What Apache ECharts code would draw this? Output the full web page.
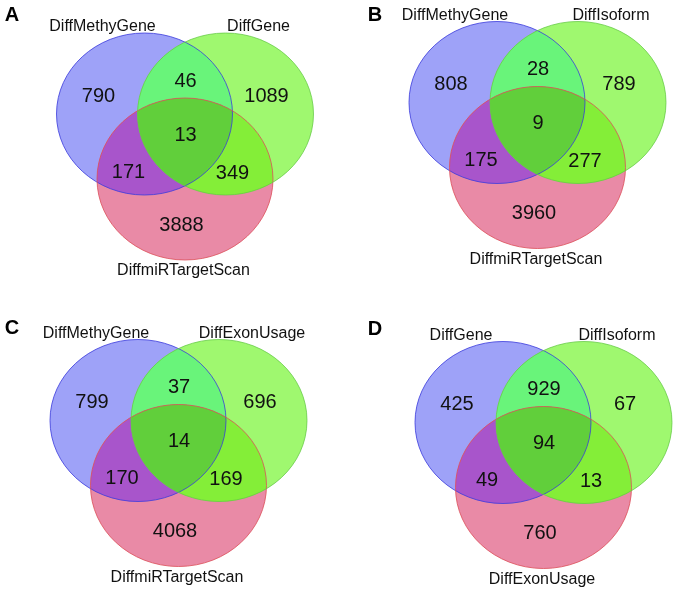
<!DOCTYPE html>
<html>
<head>
<meta charset="utf-8">
<script src="https://cdn.jsdelivr.net/npm/echarts@6/dist/echarts.min.js"></script>
<style>html,body{margin:0;padding:0;background:#fff}#c{width:677px;height:592px}</style>
</head>
<body>
<div id="c"></div>
<script>
// ---- data ----
const panelLetters = ['A', 'B', 'C', 'D'];
const setNamesA = ['DiffMethyGene', 'DiffGene', 'DiffmiRTargetScan'];
const setNamesB = ['DiffMethyGene', 'DiffIsoform', 'DiffmiRTargetScan'];
const setNamesC = ['DiffMethyGene', 'DiffExonUsage', 'DiffmiRTargetScan'];
const setNamesD = ['DiffGene', 'DiffIsoform', 'DiffExonUsage'];
// region order: only1, 1&2, only2, 1&2&3, 1&3, 2&3, only3
const countsA = [790, 46, 1089, 13, 171, 349, 3888];
const countsB = [808, 28, 789, 9, 175, 277, 3960];
const countsC = [799, 37, 696, 14, 170, 169, 4068];
const countsD = [425, 929, 67, 94, 49, 13, 760];

// ---- layout (pixels) ----
const panelOrigins = [[144.5, 114], [497, 102.5], [138, 420.5], [503, 422.5]];
const letterPos = [[12, 15], [375, 15], [12, 328], [375, 329]];
const RX = 88, RY = 81;
const GREEN_DX = 81, RED_DX = 40.5, RED_DY = 65;
const numOffsets = [[-46, -18], [41, -33], [122, -18], [41, 21], [-16, 58], [88, 59], [37, 111]];
const nameOffsets = [[-42, -87], [114, -87], [39, 157]];
const colors = {
  b: '#9ea2f8', g: '#9ff86f', r: '#e98aa6',
  bg: '#69f47a', br: '#a855cb', gr: '#84ee38', bgr: '#61cf3b'
};
const strokes = { b: 'rgba(60,60,220,0.8)', g: 'rgba(100,200,70,0.75)', r: 'rgba(220,80,90,0.8)' };
const FONT = '"Liberation Sans", Arial, Helvetica, sans-serif';

const allNames = [setNamesA, setNamesB, setNamesC, setNamesD];
const allCounts = [countsA, countsB, countsC, countsD];

function ell(cx, cy) { return { cx: cx, cy: cy, rx: RX, ry: RY }; }

function makeRender(p) {
  return function (params, api) {
    const bx = panelOrigins[p][0], by = panelOrigins[p][1];
    const B = ell(bx, by), G = ell(bx + GREEN_DX, by), R = ell(bx + RED_DX, by + RED_DY);
    const ch = [];
    ch.push({ type: 'ellipse', shape: B, style: { fill: colors.b } });
    ch.push({ type: 'ellipse', shape: R, style: { fill: colors.r } });
    ch.push({ type: 'ellipse', shape: G, style: { fill: colors.g } });
    ch.push({ type: 'ellipse', shape: B, style: { fill: colors.bg }, clipPath: { type: 'ellipse', shape: G } });
    ch.push({ type: 'ellipse', shape: B, style: { fill: colors.br }, clipPath: { type: 'ellipse', shape: R } });
    ch.push({ type: 'ellipse', shape: G, style: { fill: colors.gr }, clipPath: { type: 'ellipse', shape: R } });
    ch.push({ type: 'group', clipPath: { type: 'ellipse', shape: R }, children: [
      { type: 'ellipse', shape: B, style: { fill: colors.bgr }, clipPath: { type: 'ellipse', shape: G } }
    ] });
    ch.push({ type: 'ellipse', shape: B, style: { fill: 'none', stroke: strokes.b, lineWidth: 1 } });
    ch.push({ type: 'ellipse', shape: R, style: { fill: 'none', stroke: strokes.r, lineWidth: 1 } });
    ch.push({ type: 'ellipse', shape: G, style: { fill: 'none', stroke: strokes.g, lineWidth: 1 } });
    for (let i = 0; i < 7; i++) {
      ch.push({ type: 'text', style: {
        text: String(api.value(i)), x: bx + numOffsets[i][0], y: by + numOffsets[i][1],
        align: 'center', verticalAlign: 'middle', font: '20px ' + FONT, fill: '#111'
      } });
    }
    for (let k = 0; k < 3; k++) {
      ch.push({ type: 'text', style: {
        text: allNames[p][k], x: bx + nameOffsets[k][0], y: by + nameOffsets[k][1],
        align: 'center', verticalAlign: 'middle', font: '16px ' + FONT, fill: '#111'
      } });
    }
    ch.push({ type: 'text', style: {
      text: panelLetters[p], x: letterPos[p][0], y: letterPos[p][1],
      align: 'center', verticalAlign: 'middle', font: 'bold 20px ' + FONT, fill: '#000'
    } });
    return { type: 'group', children: ch };
  };
}

const series = [0, 1, 2, 3].map(function (p) {
  return {
    type: 'custom', coordinateSystem: 'none', silent: true, animation: false,
    renderItem: makeRender(p),
    data: [allCounts[p]]
  };
});

const chart = echarts.init(document.getElementById('c'), null, { renderer: 'canvas' });
chart.setOption({ backgroundColor: '#fff', animation: false, series: series });
</script>
</body>
</html>
